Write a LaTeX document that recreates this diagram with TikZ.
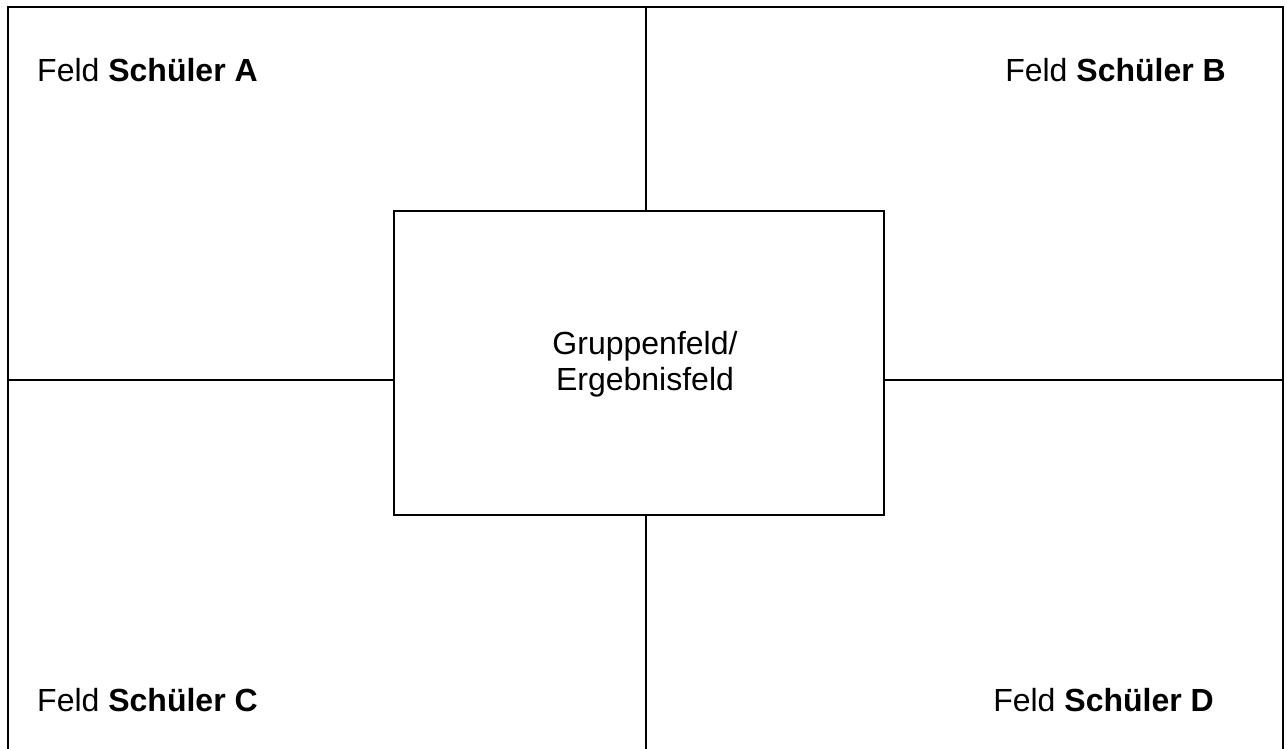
\documentclass[tikz,border=0pt]{standalone}
\usepackage{fontspec}
\setmainfont{Liberation Sans}
\begin{document}
\begin{tikzpicture}[x=1pt,y=-1pt,
  frame/.style={line width=1.6pt,draw=black},
  label/.style={font=\fontsize{32}{36}\selectfont,inner sep=0pt},
  centerbox/.style={frame,minimum width=490pt,minimum height=304pt,inner sep=0pt}]
\useasboundingbox (0,0) rectangle (1287,749);
% open outer frame (no bottom edge)
\coordinate (bl) at (8,749);
\coordinate (tl) at (8,7);
\coordinate (tr) at (1283,7);
\coordinate (br) at (1283,749);
\draw[frame] (bl) -- (tl) -- (tr) -- (br);
% central group field
\node[centerbox] (g) at (639,363) {};
\node[label,align=center] (gt) at (645,364) {Gruppenfeld/\\Ergebnisfeld};
% dividers from the central box to the frame
\coordinate (top) at (646,7);
\coordinate (bot) at (646,749);
\coordinate (lft) at (8,380);
\coordinate (rgt) at (1283,380);
\draw[frame] (top) -- (top |- g.north);
\draw[frame] (bot) -- (bot |- g.south);
\draw[frame] (lft) -- (lft -| g.west);
\draw[frame] (rgt) -- (rgt -| g.east);
% field labels
\node[label,anchor=west] (a) at (37,70) {Feld \textbf{Schüler A}};
\node[label,anchor=east] (b) at (1226,70) {Feld \textbf{Schüler B}};
\node[label,anchor=west] (c) at (37,700) {Feld \textbf{Schüler C}};
\node[label,anchor=east] (d) at (1214,700) {Feld \textbf{Schüler D}};
\end{tikzpicture}
\end{document}
